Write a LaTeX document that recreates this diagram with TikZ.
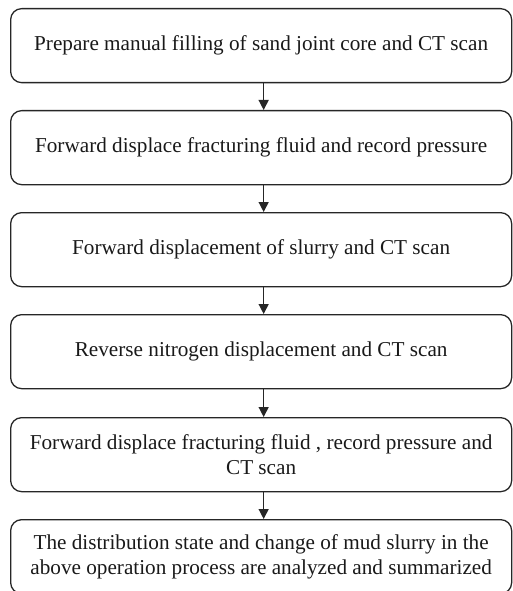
\documentclass[tikz,border=0pt]{standalone}
\usepackage{fontspec}
\setmainfont{Liberation Serif}
\usetikzlibrary{arrows.meta}
\begin{document}
\begin{tikzpicture}[x=1pt,y=-1pt,
  stepbox/.style={draw=black!85,line width=1.3pt,rounded corners=11pt,minimum width=501pt,minimum height=74pt,inner sep=0pt,align=center,font=\fontsize{21.2}{24.5}\selectfont,text=black!90,anchor=north west},
  conn/.style={draw=black!85,line width=1.3pt,-{Triangle[width=10pt,length=10pt]}}]
\useasboundingbox (0,0) rectangle (512,591);
\node[stepbox] (b1) at (10,8) {Prepare manual filling of sand joint core and CT scan};
\node[stepbox] (b2) at (10,110) {Forward displace fracturing fluid and record pressure};
\node[stepbox] (b3) at (10,212) {Forward displacement of slurry and CT scan};
\node[stepbox] (b4) at (10,314) {Reverse nitrogen displacement and CT scan};
\node[stepbox] (b5) at (10,417) {Forward displace fracturing fluid , record pressure and\\CT scan};
\node[stepbox] (b6) at (10,519) {The distribution state and change of mud slurry in the\\above operation process are analyzed and summarized};
\foreach \a/\b in {b1/b2,b2/b3,b3/b4,b4/b5,b5/b6}{
  \draw[conn] ([xshift=2.5pt]\a.south) -- ([xshift=2.5pt]\b.north);
}
\end{tikzpicture}
\end{document}
